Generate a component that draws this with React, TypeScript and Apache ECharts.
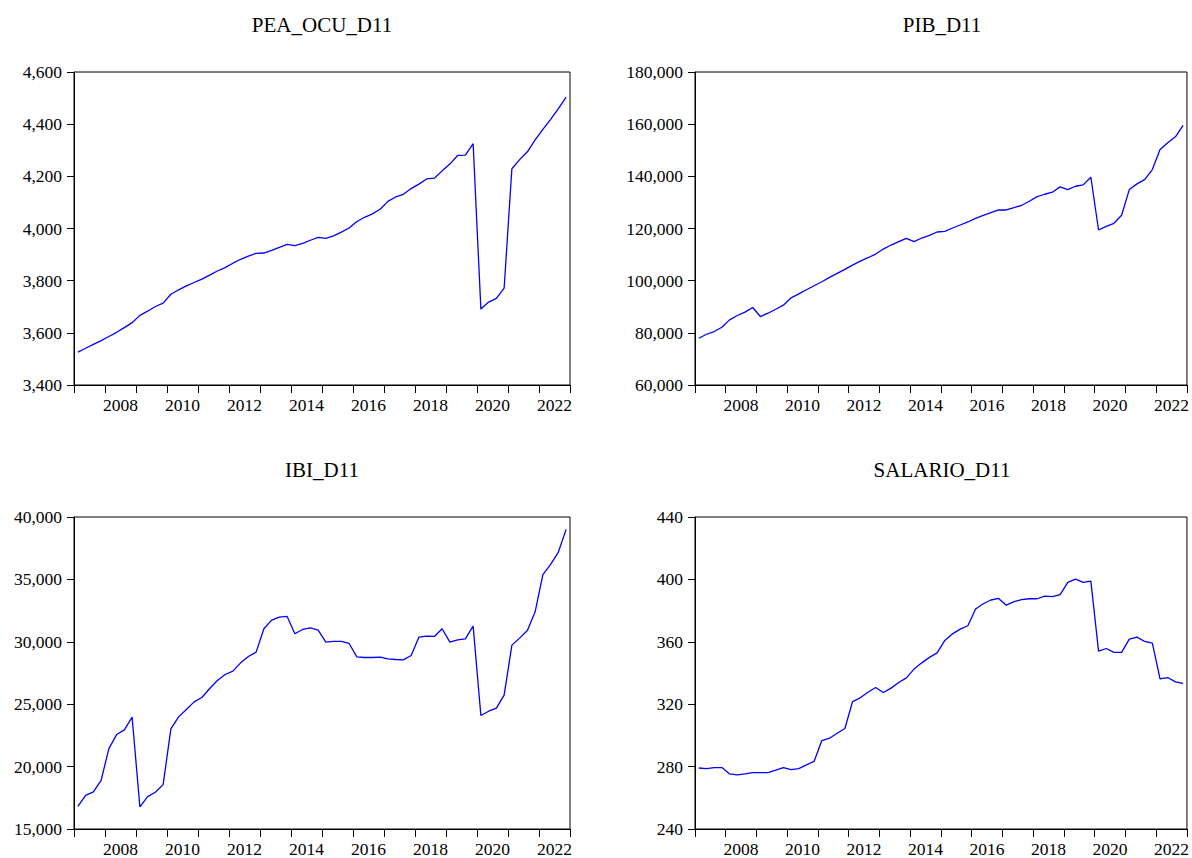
import React, { useEffect, useRef } from "react";
import * as echarts from "echarts";

const years = ["2007","2008","2009","2010","2011","2012","2013","2014","2015","2016","2017","2018","2019","2020","2021","2022"];
const quarters: string[] = [];
years.forEach((y) => { for (let q = 1; q <= 4; q++) quarters.push(y + "Q" + q); });

const peaOcu = [
  3526, 3541, 3556, 3570,
  3586, 3602, 3620, 3639,
  3667, 3683, 3701, 3714,
  3748, 3765, 3780, 3793,
  3806, 3821, 3837, 3850,
  3867, 3882, 3894, 3905,
  3906, 3916, 3928, 3939,
  3934, 3943, 3955, 3966,
  3962, 3972, 3986, 4002,
  4027, 4043, 4056, 4074,
  4104, 4121, 4131, 4153,
  4170, 4190, 4193, 4221,
  4247, 4280, 4281, 4325,
  3691, 3718, 3732, 3771,
  4229, 4264, 4294, 4340,
  4380, 4418, 4460, 4504,
];

const pib = [
  77930, 79460, 80490, 82150,
  84970, 86640, 87920, 89710,
  86250, 87520, 89060, 90600,
  93420, 94960, 96500, 98040,
  99570, 101240, 102780, 104310,
  105980, 107510, 108800, 110200,
  112120, 113660, 114940, 116220,
  114940, 116350, 117370, 118660,
  118910, 120190, 121340, 122500,
  123900, 125050, 126070, 127100,
  127100, 127990, 128900, 130440,
  132230, 133130, 133900, 135950,
  134920, 136200, 136710, 139660,
  119420, 120830, 121990, 125060,
  134920, 137100, 138760, 142600,
  150290, 152850, 155160, 159510,
];

const ibi = [
  16818, 17701, 17968, 18904,
  21444, 22567, 22942, 23958,
  16765, 17594, 17941, 18556,
  23021, 23984, 24572, 25187,
  25535, 26257, 26898, 27380,
  27647, 28315, 28823, 29171,
  31043, 31738, 31979, 32032,
  30642, 30989, 31123, 30936,
  29973, 30027, 30027, 29866,
  28797, 28743, 28743, 28770,
  28636, 28583, 28556, 28904,
  30374, 30455, 30428, 31043,
  29973, 30160, 30241, 31257,
  24091, 24439, 24679, 25722,
  29733, 30294, 30909, 32406,
  35374, 36203, 37192, 39011,
];

const salario = [
  279.1, 278.7, 279.4, 279.4,
  275.3, 274.7, 275.3, 276.2,
  276.2, 276.2, 277.7, 279.4,
  278.1, 278.7, 281.1, 283.4,
  296.7, 298.2, 301.4, 304.4,
  321.7, 324.1, 327.7, 330.7,
  327.5, 330.3, 333.9, 336.9,
  342.5, 346.5, 350.0, 352.9,
  360.9, 365.1, 368.1, 370.3,
  381.0, 384.4, 386.8, 387.8,
  383.5, 385.7, 387.0, 387.6,
  387.6, 389.3, 388.9, 390.2,
  398.1, 400.2, 398.1, 398.9,
  354.0, 355.7, 353.2, 353.2,
  361.7, 363.0, 360.2, 359.1,
  336.2, 337.1, 334.3, 333.3,
];

const titles = ["PEA_OCU_D11", "PIB_D11", "IBI_D11", "SALARIO_D11"];
const seriesData = [peaOcu, pib, ibi, salario];
const yMin = [3400, 60000, 15000, 240];
const yMax = [4600, 180000, 40000, 440];
const yStep = [200, 20000, 5000, 40];

const FONT = "'Liberation Serif', 'Times New Roman', serif";

export default function App() {
  const ref = useRef<HTMLDivElement>(null);
  useEffect(() => {
    document.body.style.margin = "0";
    if (!ref.current) return;
    const chart = echarts.init(ref.current, null, { renderer: "svg" });
    const grids = [
      { left: 74, top: 72, width: 496, height: 313 },
      { left: 695, top: 72, width: 494, height: 313 },
      { left: 74, top: 517, width: 496, height: 314 },
      { left: 695, top: 517, width: 494, height: 314 },
    ];
    const xAxes: any[] = [];
    const yAxes: any[] = [];
    const series: any[] = [];
    const graphics: any[] = [];
    grids.forEach((g, i) => {
      xAxes.push({
        type: "category",
        gridIndex: i,
        data: years,
        boundaryGap: true,
        position: "bottom",
        axisLine: { show: true, lineStyle: { color: "#000", width: 1 } },
        axisTick: { show: true, interval: 0, length: 8, inside: false, lineStyle: { color: "#000", width: 1 } },
        axisLabel: {
          show: true,
          interval: (idx: number) => idx % 2 === 1,
          margin: 11,
          color: "#000",
          fontFamily: FONT,
          fontSize: 17.5,
        },
        splitLine: { show: false },
      });
      xAxes.push({
        type: "category",
        gridIndex: i,
        data: quarters,
        boundaryGap: true,
        show: false,
      });
      yAxes.push({
        type: "value",
        gridIndex: i,
        min: yMin[i],
        max: yMax[i],
        interval: yStep[i],
        axisLine: { show: true, lineStyle: { color: "#000", width: 1 } },
        axisTick: { show: true, length: 7, inside: false, lineStyle: { color: "#000", width: 1 } },
        axisLabel: {
          margin: 12,
          color: "#000",
          fontFamily: FONT,
          fontSize: 17.5,
          formatter: (v: number) => v.toLocaleString("en-US"),
        },
        splitLine: { show: false },
      });
      series.push({
        type: "line",
        xAxisIndex: i * 2 + 1,
        yAxisIndex: i,
        data: seriesData[i],
        showSymbol: false,
        symbol: "none",
        lineStyle: { color: "#0000ff", width: 1.3 },
        silent: true,
      });
      graphics.push({
        type: "text",
        x: g.left + g.width / 2,
        y: g.top - 47,
        style: {
          text: titles[i],
          fontFamily: FONT,
          fontSize: 21,
          fill: "#000",
          textAlign: "center",
          textVerticalAlign: "middle",
        },
      });
    });
    chart.setOption({
      animation: false,
      backgroundColor: "#fff",
      grid: grids.map((g) => ({ ...g, show: true, borderColor: "#000", borderWidth: 1, backgroundColor: "transparent" })),
      xAxis: xAxes,
      yAxis: yAxes,
      series,
      graphic: graphics,
    });
    return () => chart.dispose();
  }, []);
  return <div ref={ref} style={{ width: 1192, height: 858 }} />;
}
